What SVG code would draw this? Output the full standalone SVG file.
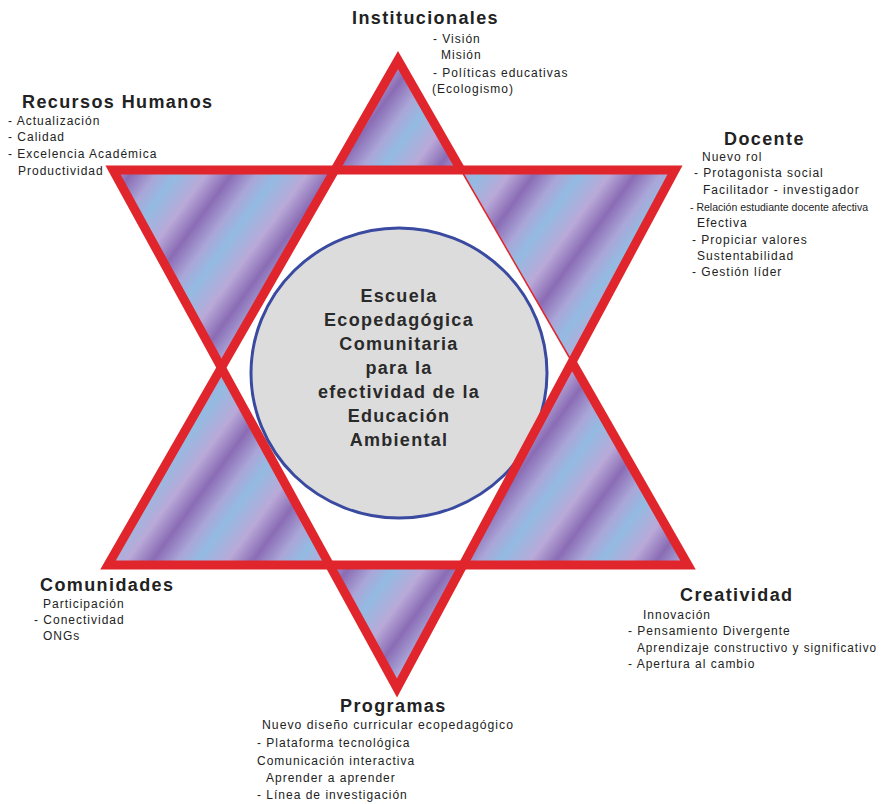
<svg xmlns="http://www.w3.org/2000/svg" width="884" height="804" viewBox="0 0 884 804">
<style>
.t{font-family:"Liberation Sans",Arial,sans-serif;font-weight:bold;font-size:18px;fill:#222;letter-spacing:1.4px}
.s{font-family:"Liberation Sans",Arial,sans-serif;font-size:12px;fill:#222;letter-spacing:1px}
.n{font-family:"Liberation Sans",Arial,sans-serif;font-size:10.5px;fill:#222;letter-spacing:0}
.c{font-family:"Liberation Sans",Arial,sans-serif;font-weight:bold;font-size:18px;fill:#2a2a2a;text-anchor:middle;letter-spacing:1.3px}
.edge{stroke:#e0262c;stroke-width:9;fill:none;stroke-linejoin:miter}
</style>
<defs>
<linearGradient id="stripe" gradientUnits="userSpaceOnUse" x1="0" y1="0" x2="66" y2="48" spreadMethod="repeat">
<stop offset="0" stop-color="#93bbe2"/>
<stop offset="0.3" stop-color="#b9a9d8"/>
<stop offset="0.55" stop-color="#8a6cb5"/>
<stop offset="0.8" stop-color="#aaa6d8"/>
<stop offset="1" stop-color="#93bbe2"/>
</linearGradient>
</defs>
<g id="star">
<polygon points="398,60 108,565 688,565" fill="url(#stripe)"/>
<polygon points="113,170 675,170 397,688" fill="url(#stripe)"/>
<polygon points="335,170 461,170 572,362 463,565 330,565 221,368" fill="#fff"/>
</g>
<g id="center">
<ellipse cx="399" cy="373" rx="148" ry="145" fill="#dcdcdc" stroke="#3a4aa0" stroke-width="3"/>
<text class="c" x="399" y="302">Escuela</text>
<text class="c" x="399" y="326">Ecopedagógica</text>
<text class="c" x="399" y="350">Comunitaria</text>
<text class="c" x="399" y="374">para la</text>
<text class="c" x="399" y="398">efectividad de la</text>
<text class="c" x="399" y="422">Educación</text>
<text class="c" x="399" y="446">Ambiental</text>
</g>
<g id="connectors">
<polyline class="edge" points="461,170 398,60 108,565 688,565 572,362"/>
<polygon class="edge" points="113,170 675,170 397,688"/>
<line x1="461" y1="170" x2="572" y2="362" stroke="#e0262c" stroke-width="1.5"/>
</g>
<g id="institucionales">
<text class="t" x="352" y="24">Institucionales</text>
<text class="s" x="433" y="43">- Visión</text>
<text class="s" x="441" y="59">Misión</text>
<text class="s" x="433" y="77">- Políticas educativas</text>
<text class="s" x="432" y="93">(Ecologismo)</text>
</g>
<g id="recursos">
<text class="t" x="22" y="108">Recursos Humanos</text>
<text class="s" x="8" y="125">- Actualización</text>
<text class="s" x="8" y="141">- Calidad</text>
<text class="s" x="8" y="158">- Excelencia Académica</text>
<text class="s" x="18" y="175">Productividad</text>
</g>
<g id="docente">
<text class="t" x="724" y="145">Docente</text>
<text class="s" x="702" y="161">Nuevo rol</text>
<text class="s" x="694" y="177">- Protagonista social</text>
<text class="s" x="703" y="194">Facilitador - investigador</text>
<text class="n" x="690" y="211">- Relación estudiante docente afectiva</text>
<text class="s" x="697" y="227">Efectiva</text>
<text class="s" x="692" y="244">- Propiciar valores</text>
<text class="s" x="697" y="260">Sustentabilidad</text>
<text class="s" x="692" y="276">- Gestión líder</text>
</g>
<g id="comunidades">
<text class="t" x="40" y="591">Comunidades</text>
<text class="s" x="43" y="608">Participación</text>
<text class="s" x="34" y="624">- Conectividad</text>
<text class="s" x="43" y="640">ONGs</text>
</g>
<g id="creatividad">
<text class="t" x="680" y="601">Creatividad</text>
<text class="s" x="643" y="619">Innovación</text>
<text class="s" x="628" y="635">- Pensamiento Divergente</text>
<text class="s" x="637" y="652" textLength="240" lengthAdjust="spacingAndGlyphs">Aprendizaje constructivo y significativo</text>
<text class="s" x="628" y="668">- Apertura al cambio</text>
</g>
<g id="programas">
<text class="t" x="340" y="712">Programas</text>
<text class="s" x="262" y="729" textLength="252" lengthAdjust="spacingAndGlyphs">Nuevo diseño curricular ecopedagógico</text>
<text class="s" x="257" y="747">- Plataforma tecnológica</text>
<text class="s" x="257" y="765">Comunicación interactiva</text>
<text class="s" x="266" y="782">Aprender a aprender</text>
<text class="s" x="257" y="799">- Línea de investigación</text>
</g>
</svg>
